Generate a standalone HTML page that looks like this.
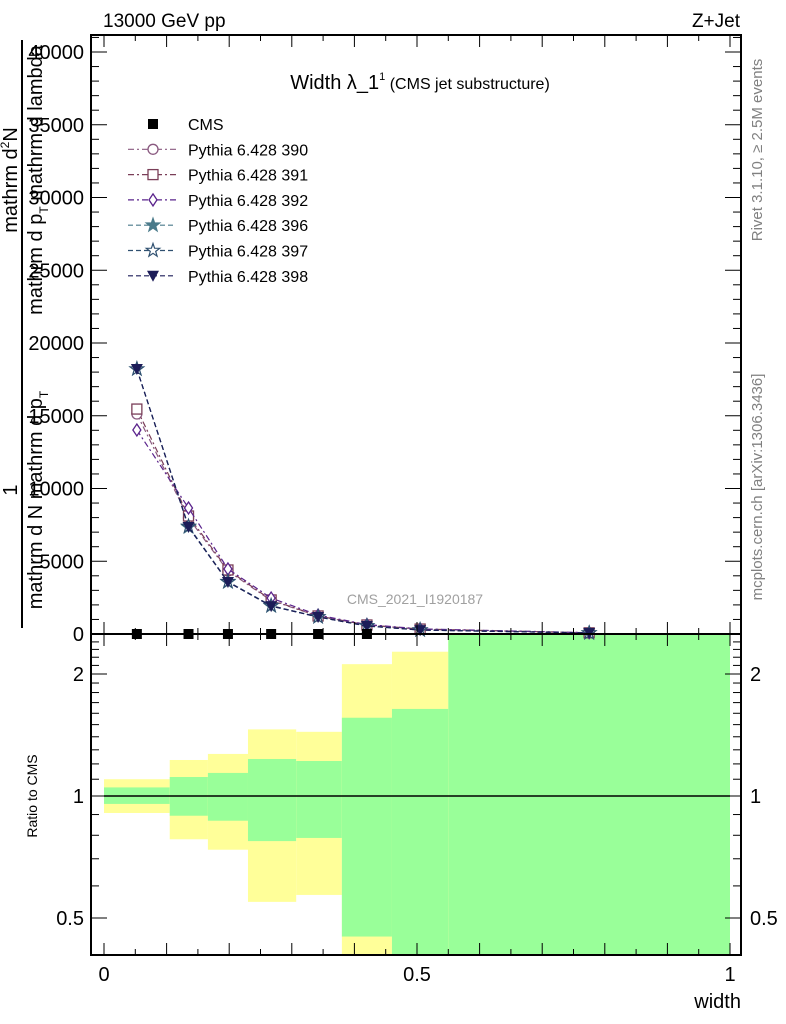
<!DOCTYPE html>
<html><head><meta charset="utf-8"><style>
body{margin:0;background:#fff}
svg{display:block;font-family:"Liberation Sans",sans-serif}
</style></head><body>
<svg id="c" width="786" height="1024" xmlns="http://www.w3.org/2000/svg">
<text x="103" y="27" font-size="19">13000 GeV pp</text>
<text x="740" y="27" font-size="19" text-anchor="end">Z+Jet</text>
<text x="420" y="89" font-size="20" text-anchor="middle">Width λ_1<tspan font-size="11" dy="-9">1</tspan><tspan font-size="16" dy="9"> (CMS jet substructure)</tspan></text>
<text x="415" y="604" font-size="14" fill="#a0a0a0" text-anchor="middle">CMS_2021_I1920187</text>
<text transform="translate(762,150) rotate(-90)" font-size="15" fill="#808080" text-anchor="middle">Rivet 3.1.10, ≥ 2.5M events</text>
<text transform="translate(762,487) rotate(-90)" font-size="15" fill="#808080" text-anchor="middle">mcplots.cern.ch [arXiv:1306.3436]</text>
<g font-size="20">
<text transform="translate(17,180) rotate(-90)" text-anchor="middle">mathrm d<tspan font-size="12" dy="-8">2</tspan><tspan dy="8">N</tspan></text>
<text transform="translate(17,490) rotate(-90)" text-anchor="middle">1</text>
<line x1="22" y1="40" x2="22" y2="628" stroke="#000" stroke-width="2"/>
<text transform="translate(42,180) rotate(-90)" text-anchor="middle">mathrm d p<tspan font-size="12" dy="6">T</tspan><tspan dy="-6"> mathrm d lambda</tspan></text>
<text transform="translate(42,500) rotate(-90)" text-anchor="middle">mathrm d N mathrm d p<tspan font-size="12" dy="6">T</tspan></text>
</g>
<text transform="translate(37,796) rotate(-90)" font-size="14" text-anchor="middle">Ratio to CMS</text>
<text x="741" y="1008" font-size="20" text-anchor="end">width</text>
<g id="ratio"></g>
<g id="main"></g>
<g id="axes"></g>
<g id="legend"></g>
</svg>
<script>
const edges=[0,0.105,0.166,0.23,0.307,0.38,0.46,0.55,1.0];
const centers=[0.0525,0.135,0.198,0.267,0.342,0.42,0.505,0.775];
const cmsVals=[0,0,0,0,0,0,0,0];
const s390=[15120,7970,4330,2300,1230,610,330,80];
const s391=[15460,8110,4400,2340,1240,620,340,80];
const s392=[14020,8660,4470,2470,1300,650,350,90];
const s396=[18210,7350,3570,1920,1170,550,270,70];
const s397=[18210,7400,3600,1950,1180,560,280,70];
const s398=[18210,7350,3570,1920,1170,550,270,70];
const yellowHi=[1.10,1.227,1.27,1.46,1.44,2.115,2.27,3];
const yellowLo=[0.908,0.782,0.737,0.548,0.57,0.3,0.3,0.3];
const greenHi=[1.05,1.114,1.14,1.234,1.22,1.56,1.64,3];
const greenLo=[0.956,0.894,0.869,0.774,0.788,0.45,0.3,0.3];
const yTicks=[0,5000,10000,15000,20000,25000,30000,35000,40000];
const rTicks=[0.5,1,2];
const xTicks=[0,0.5,1];

const NS="http://www.w3.org/2000/svg";
const L=91,R=741,T=35,MB=634,RB=955;
const X=v=>104+626*v;
const Y=v=>634-v*(72.75/5000);
const RY=v=>Math.min(RB,Math.max(MB,796-122*Math.log2(v)));
function mk(p,tag,a){const e=document.createElementNS(NS,tag);for(const k in a)e.setAttribute(k,a[k]);p.appendChild(e);return e;}
const ratio=document.getElementById('ratio'),main=document.getElementById('main'),axes=document.getElementById('axes'),leg=document.getElementById('legend');
for(let i=0;i<edges.length-1;i++){
 const x1=X(edges[i]),x2=X(edges[i+1]);
 let r=mk(ratio,'rect',{x:x1,y:RY(yellowHi[i]),width:x2-x1,height:RY(yellowLo[i])-RY(yellowHi[i]),fill:'#ffff99'});
 
 r=mk(ratio,'rect',{x:x1,y:RY(greenHi[i]),width:x2-x1,height:RY(greenLo[i])-RY(greenHi[i]),fill:'#99ff99'});
 
}
let ln=mk(ratio,'line',{x1:X(0),x2:X(1),y1:RY(1),y2:RY(1),stroke:'#000','stroke-width':1.5});

mk(axes,'rect',{x:L,y:T,width:R-L,height:MB-T,fill:'none',stroke:'#000','stroke-width':2});
mk(axes,'rect',{x:L,y:MB,width:R-L,height:RB-MB,fill:'none',stroke:'#000','stroke-width':2});
for(let v=0;v<=41000;v+=1000){const y=Y(v);const big=v%5000==0;
 mk(axes,'line',{x1:L,x2:L+(big?16:8),y1:y,y2:y,stroke:'#000','stroke-width':1});
 mk(axes,'line',{x1:R,x2:R-(big?16:8),y1:y,y2:y,stroke:'#000','stroke-width':1});}
yTicks.forEach(v=>{const t=mk(axes,'text',{x:84,y:Y(v)+7,'font-size':20,'text-anchor':'end'});t.textContent=v;
 });
for(let v=0;v<=1.0001;v+=0.05){const x=X(v);const big=Math.abs(v*10-Math.round(v*10))<1e-6;
 [[MB,1],[RB,1],[MB,-1],[T,-1]].forEach(([b,d])=>{mk(axes,'line',{x1:x,x2:x,y1:b,y2:b-d*(big?12:6),stroke:'#000'});});}
xTicks.forEach(v=>{const t=mk(axes,'text',{x:X(v),y:981,'font-size':20,'text-anchor':'middle'});t.textContent=v;
 });
for(let v=0.4;v<=2.5;v+=0.1){const y=RY(v);if(y<=MB+0.5||y>=RB-0.5)continue;
 const big=[0.5,1,2].some(b=>Math.abs(b-v)<1e-6);
 mk(axes,'line',{x1:L,x2:L+(big?16:8),y1:y,y2:y,stroke:'#000'});
 mk(axes,'line',{x1:R,x2:R-(big?16:8),y1:y,y2:y,stroke:'#000'});}
rTicks.forEach(v=>{let t=mk(axes,'text',{x:84,y:RY(v)+7,'font-size':20,'text-anchor':'end'});t.textContent=v;
 
 t=mk(axes,'text',{x:750,y:RY(v)+7,'font-size':20});t.textContent=v;
 });
function marker(g,type,x,y,c){
 const s=5;
 if(type=='sq')return mk(g,'rect',{x:x-s,y:y-s,width:2*s,height:2*s,fill:c});
 if(type=='osq')return mk(g,'rect',{x:x-s,y:y-s,width:2*s,height:2*s,fill:'#fff',stroke:c,'stroke-width':1.3});
 if(type=='circ')return mk(g,'circle',{cx:x,cy:y,r:s,fill:'#fff',stroke:c,'stroke-width':1.3});
 if(type=='dia')return mk(g,'polygon',{points:`${x},${y-6} ${x+4},${y} ${x},${y+6} ${x-4},${y}`,fill:'#fff',stroke:c,'stroke-width':1.3});
 if(type=='tri')return mk(g,'polygon',{points:`${x-6},${y-5} ${x+6},${y-5} ${x},${y+6}`,fill:c});
 let p=[];for(let k=0;k<10;k++){const a=-Math.PI/2+k*Math.PI/5,r=k%2?2.8:7;p.push((x+r*Math.cos(a)).toFixed(1)+','+(y+r*Math.sin(a)).toFixed(1));}
 return mk(g,'polygon',{points:p.join(' '),fill:type=='star'?c:'#fff',stroke:c,'stroke-width':1.2});
}
const series=[
 {n:'390',v:s390,c:'#8a5a80',m:'circ',d:'6,3,2,3'},
 {n:'391',v:s391,c:'#7a3e58',m:'osq',d:'6,3,2,3'},
 {n:'392',v:s392,c:'#5a238c',m:'dia',d:'6,3,2,3'},
 {n:'396',v:s396,c:'#4a7a8a',m:'star',d:'5,3'},
 {n:'397',v:s397,c:'#2f5070',m:'ostar',d:'5,3'},
 {n:'398',v:s398,c:'#1c1c58',m:'tri',d:'5,3'}];
series.forEach(s=>{
 const g=mk(main,'g',{});
 const pl=mk(g,'polyline',{points:centers.map((c,i)=>X(c)+','+Y(s.v[i])).join(' '),fill:'none',stroke:s.c,'stroke-width':1.2,'stroke-dasharray':s.d});
 
 centers.forEach((c,i)=>{const m=marker(g,s.m,X(c),Y(s.v[i]),s.c);});
});
const cg=mk(main,'g',{});
centers.forEach((c,i)=>{if(i<6){const m=marker(cg,'sq',X(c),Y(cmsVals[i]),'#000');}});
const ly0=124,ldy=25.3;
let e=mk(leg,'g',{});
marker(e,'sq',153,ly0,'#000');let t=mk(e,'text',{x:188,y:ly0+6,'font-size':16});t.textContent='CMS';
series.forEach((s,i)=>{const y=ly0+ldy*(i+1);
 const g=mk(leg,'g',{});
 mk(g,'line',{x1:128,x2:176,y1:y,y2:y,stroke:s.c,'stroke-width':1.2,'stroke-dasharray':s.d});
 marker(g,s.m,153,y,s.c);
 const tt=mk(g,'text',{x:188,y:y+6,'font-size':16});tt.textContent='Pythia 6.428 '+s.n;});
</script>
</body></html>
